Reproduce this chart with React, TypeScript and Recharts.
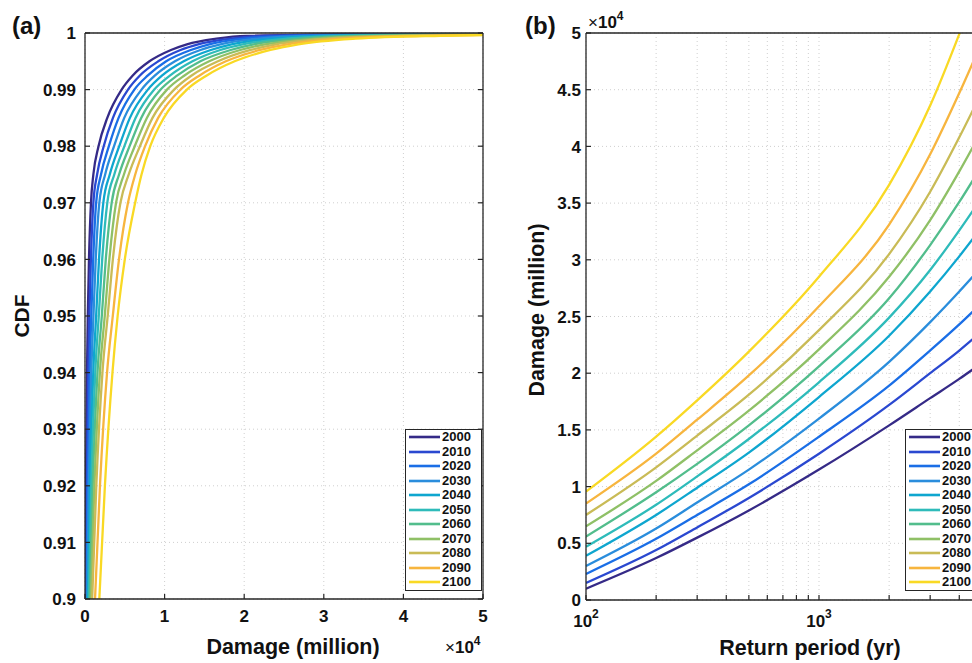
import { CartesianGrid, Legend, Line, LineChart, XAxis, YAxis } from 'recharts'

const FONT = '"Liberation Sans", Arial, Helvetica, sans-serif'
const INK = '#111111'
const AXIS = '#262626'
const GRID = '#cfcfcf'
const TICK_LEN = 5

const years = [2000, 2010, 2020, 2030, 2040, 2050, 2060, 2070, 2080, 2090, 2100]
const colors = [
  '#352a87',
  '#2a48d0',
  '#1a6ee6',
  '#2a8ddc',
  '#0ea6cf',
  '#2ebbba',
  '#52bd8c',
  '#8fc066',
  '#c9bb56',
  '#f7b53e',
  '#f9d924',
]

// (a) damage (x10^4 million) where each year's CDF reaches a level; rows = levels, columns = years
const cdfLevels = [0.9, 0.92, 0.94, 0.95, 0.96, 0.97, 0.975, 0.98, 0.985, 0.99, 0.9925, 0.995, 0.997, 0.998, 0.999, 0.9995]
const damageAtLevel = [
  [0.005, 0.012, 0.02, 0.028, 0.037, 0.047, 0.058, 0.072, 0.09, 0.126, 0.18],
  [0.012, 0.023, 0.035, 0.048, 0.063, 0.079, 0.097, 0.118, 0.142, 0.188, 0.25],
  [0.025, 0.041, 0.059, 0.079, 0.104, 0.129, 0.157, 0.187, 0.219, 0.277, 0.345],
  [0.035, 0.055, 0.079, 0.106, 0.14, 0.173, 0.211, 0.248, 0.285, 0.349, 0.41],
  [0.05, 0.074, 0.103, 0.135, 0.176, 0.216, 0.261, 0.306, 0.35, 0.427, 0.5],
  [0.075, 0.105, 0.14, 0.18, 0.23, 0.28, 0.335, 0.39, 0.445, 0.54, 0.63],
  [0.105, 0.152, 0.201, 0.253, 0.311, 0.368, 0.428, 0.489, 0.549, 0.631, 0.71],
  [0.17, 0.235, 0.3, 0.365, 0.43, 0.495, 0.56, 0.625, 0.69, 0.755, 0.82],
  [0.28, 0.351, 0.422, 0.493, 0.564, 0.635, 0.706, 0.777, 0.848, 0.919, 0.99],
  [0.46, 0.54, 0.62, 0.71, 0.79, 0.87, 0.95, 1.03, 1.12, 1.2, 1.28],
  [0.6, 0.69, 0.79, 0.88, 0.97, 1.07, 1.16, 1.25, 1.34, 1.44, 1.53],
  [0.81, 0.92, 1.02, 1.13, 1.24, 1.35, 1.45, 1.56, 1.67, 1.77, 1.88],
  [1.08, 1.2, 1.33, 1.45, 1.58, 1.7, 1.83, 1.95, 2.08, 2.2, 2.33],
  [1.28, 1.42, 1.56, 1.7, 1.84, 1.98, 2.12, 2.26, 2.4, 2.54, 2.68],
  [1.65, 1.83, 2.0, 2.18, 2.35, 2.53, 2.7, 2.88, 3.05, 3.23, 3.4],
  [2.03, 2.27, 2.52, 2.76, 3.01, 3.25, 3.49, 3.74, 3.98, 4.23, 4.47],
]
const damageMax = 5
const cdfAtDamageMax = [0.99999, 0.99995, 0.99992, 0.99988, 0.99985, 0.99981, 0.99977, 0.99974, 0.9997, 0.99967, 0.99963]

const cdfTicks = [0.9, 0.91, 0.92, 0.93, 0.94, 0.95, 0.96, 0.97, 0.98, 0.99, 1]
const damageTicksA = [0, 1, 2, 3, 4, 5]

// (b) damage (x10^4 million) by return period; rows = years
const returnPeriods = [100, 200, 300, 500, 1000, 2000, 3000, 4000, 5000]
const damageByReturn = [
  [0.1, 0.37, 0.55, 0.79, 1.15, 1.54, 1.78, 1.95, 2.09],
  [0.15, 0.44, 0.64, 0.9, 1.29, 1.72, 2.0, 2.2, 2.37],
  [0.23, 0.54, 0.75, 1.02, 1.44, 1.89, 2.2, 2.43, 2.62],
  [0.3, 0.63, 0.86, 1.15, 1.6, 2.1, 2.45, 2.72, 2.94],
  [0.39, 0.75, 0.99, 1.3, 1.79, 2.33, 2.72, 3.03, 3.29],
  [0.47, 0.84, 1.09, 1.42, 1.92, 2.49, 2.91, 3.26, 3.55],
  [0.56, 0.95, 1.2, 1.54, 2.06, 2.66, 3.13, 3.51, 3.83],
  [0.65, 1.05, 1.32, 1.67, 2.21, 2.85, 3.35, 3.78, 4.14],
  [0.75, 1.17, 1.45, 1.81, 2.38, 3.05, 3.6, 4.08, 4.48],
  [0.85, 1.29, 1.59, 1.98, 2.59, 3.31, 3.93, 4.47, 4.92],
  [0.955, 1.44, 1.76, 2.19, 2.85, 3.66, 4.36, 4.99, 5.52],
]
const returnTicks = [100, 200, 300, 400, 500, 600, 700, 800, 900, 1000, 2000, 3000, 4000, 5000, 6000, 7000, 8000, 9000, 10000]
const returnLabels = [100, 1000]
const damageTicksB = [0, 0.5, 1, 1.5, 2, 2.5, 3, 3.5, 4, 4.5, 5]

const cdfSeries = years.map((_, k) => [
  ...cdfLevels.map((p, i) => ({ x: damageAtLevel[i][k], y: p })),
  { x: damageMax, y: cdfAtDamageMax[k] },
])
const returnSeries = damageByReturn.map((row) => row.map((d, i) => ({ x: returnPeriods[i], y: d })))

const tickText = { fontFamily: FONT, fontSize: 17, fontWeight: 700, fill: INK }

const BottomTickA = ({ x, y, payload }: any) => (
  <g>
    <line x1={x} x2={x} y1={y} y2={y - TICK_LEN} stroke={AXIS} strokeWidth={1.2} />
    <text x={x} y={y + 23} textAnchor="middle" style={tickText}>
      {payload.value}
    </text>
  </g>
)

const BottomTickLog = ({ x, y, payload }: any) => (
  <g>
    <line x1={x} x2={x} y1={y} y2={y - TICK_LEN} stroke={AXIS} strokeWidth={1.2} />
    {returnLabels.includes(payload.value) && (
      <text x={x} y={y + 27} textAnchor="middle" style={tickText}>
        <tspan>10</tspan>
        <tspan dy={-9} fontSize={12}>
          {Math.round(Math.log10(payload.value))}
        </tspan>
      </text>
    )}
  </g>
)

const leftTick = (gap: number) => ({ x, y, payload }: any) => (
  <g>
    <line x1={x} x2={x + TICK_LEN} y1={y} y2={y} stroke={AXIS} strokeWidth={1.2} />
    <text x={x - gap} y={y} dy="0.36em" textAnchor="end" style={tickText}>
      {payload.value}
    </text>
  </g>
)

const TopTick = ({ x, y }: any) => <line x1={x} x2={x} y1={y} y2={y + TICK_LEN} stroke={AXIS} strokeWidth={1.2} />
const RightTick = ({ x, y }: any) => <line x1={x} x2={x - TICK_LEN} y1={y} y2={y} stroke={AXIS} strokeWidth={1.2} />

const LegendBox = ({ payload }: any) => (
  <div
    style={{
      width: 77,
      height: 162,
      border: `1.3px solid ${AXIS}`,
      background: '#fff',
      boxSizing: 'border-box',
      fontFamily: FONT,
    }}
  >
    {(payload || []).map((p: any) => (
      <div key={p.value} style={{ display: 'flex', alignItems: 'center', height: 14.5 }}>
        <svg width={36} height={6} style={{ display: 'block' }}>
          <line x1={3} x2={34} y1={3} y2={3} stroke={p.color} strokeWidth={2.6} />
        </svg>
        <span style={{ fontSize: 13, fontWeight: 700, color: INK, lineHeight: '14.5px' }}>{p.value}</span>
      </div>
    ))}
  </div>
)

const axisLine = { stroke: AXIS, strokeWidth: 1.3 }

// shared props for the thin axes that only carry the box line and inward ticks
const edgeAxis = {
  allowDataOverflow: true,
  tickSize: 0,
  tickMargin: 0,
  interval: 0 as const,
  tickLine: false,
  axisLine,
}

export default function App() {
  return (
    <div
      style={{
        position: 'absolute',
        left: 0,
        top: 0,
        width: 972,
        height: 663,
        overflow: 'hidden',
        background: '#fff',
        fontFamily: FONT,
      }}
    >
      <div style={{ position: 'absolute', left: 0, top: 0 }}>
        <LineChart width={490} height={663} margin={{ top: 32, right: 6, bottom: 63, left: 84 }}>
          <CartesianGrid stroke={GRID} strokeDasharray="1 3" />
          <XAxis {...edgeAxis} type="number" dataKey="x" domain={[0, 5]} ticks={damageTicksA} height={1} tick={BottomTickA} />
          <XAxis
            {...edgeAxis}
            xAxisId="top"
            orientation="top"
            type="number"
            domain={[0, 5]}
            ticks={damageTicksA}
            height={1}
            tick={TopTick}
          />
          <YAxis {...edgeAxis} type="number" domain={[0.9, 1]} ticks={cdfTicks} width={1} tick={leftTick(9)} />
          <YAxis
            {...edgeAxis}
            yAxisId="right"
            orientation="right"
            type="number"
            domain={[0.9, 1]}
            ticks={cdfTicks}
            width={1}
            tick={RightTick}
          />
          {years.map((yr, k) => (
            <Line
              key={yr}
              name={String(yr)}
              data={cdfSeries[k]}
              dataKey="y"
              type="monotone"
              stroke={colors[k]}
              strokeWidth={2.3}
              dot={false}
              activeDot={false}
              isAnimationActive={false}
            />
          ))}
          <Legend
            layout="vertical"
            align="center"
            verticalAlign="middle"
            content={LegendBox}
            wrapperStyle={{ left: 405, top: 429, width: 77, height: 162 }}
          />
        </LineChart>
      </div>

      <div style={{ position: 'absolute', left: 500, top: 0 }}>
        <LineChart width={600} height={663} margin={{ top: 32, right: 48, bottom: 62, left: 85 }}>
          <CartesianGrid stroke={GRID} strokeDasharray="1 3" />
          <XAxis
            {...edgeAxis}
            type="number"
            dataKey="x"
            scale="log"
            domain={[100, 10000]}
            ticks={returnTicks}
            height={1}
            tick={BottomTickLog}
          />
          <XAxis
            {...edgeAxis}
            xAxisId="top"
            orientation="top"
            type="number"
            scale="log"
            domain={[100, 10000]}
            ticks={returnTicks}
            height={1}
            tick={TopTick}
          />
          <YAxis {...edgeAxis} type="number" domain={[0, 5]} ticks={damageTicksB} width={1} tick={leftTick(5)} />
          {years.map((yr, k) => (
            <Line
              key={yr}
              name={String(yr)}
              data={returnSeries[k]}
              dataKey="y"
              type="monotone"
              stroke={colors[k]}
              strokeWidth={2.3}
              dot={false}
              activeDot={false}
              isAnimationActive={false}
            />
          ))}
          <Legend
            layout="vertical"
            align="center"
            verticalAlign="middle"
            content={LegendBox}
            wrapperStyle={{ left: 405, top: 429, width: 77, height: 162 }}
          />
        </LineChart>
      </div>

      <svg width={972} height={663} style={{ position: 'absolute', left: 0, top: 0, pointerEvents: 'none' }}>
        <g fontFamily={FONT} fontWeight={700} fill={INK}>
          <text x={12} y={34} fontSize={24}>
            (a)
          </text>
          <text x={525} y={34} fontSize={24}>
            (b)
          </text>
          <text x={29} y={316} fontSize={21} textAnchor="middle" transform="rotate(-90 29 316)">
            CDF
          </text>
          <text x={544} y={310} fontSize={21.5} textAnchor="middle" transform="rotate(-90 544 310)">
            Damage (million)
          </text>
          <text x={293} y={654} fontSize={21.5} textAnchor="middle">
            Damage (million)
          </text>
          <text x={810} y={655} fontSize={21.5} textAnchor="middle">
            Return period (yr)
          </text>
          <text x={445} y={653}>
            <tspan fontSize={17} fontWeight={400}>
              ×
            </tspan>
            <tspan fontSize={17}>10</tspan>
            <tspan fontSize={12} dy={-8}>
              4
            </tspan>
          </text>
          <text x={588} y={28}>
            <tspan fontSize={17} fontWeight={400}>
              ×
            </tspan>
            <tspan fontSize={17}>10</tspan>
            <tspan fontSize={12} dy={-8}>
              4
            </tspan>
          </text>
        </g>
      </svg>
    </div>
  )
}
